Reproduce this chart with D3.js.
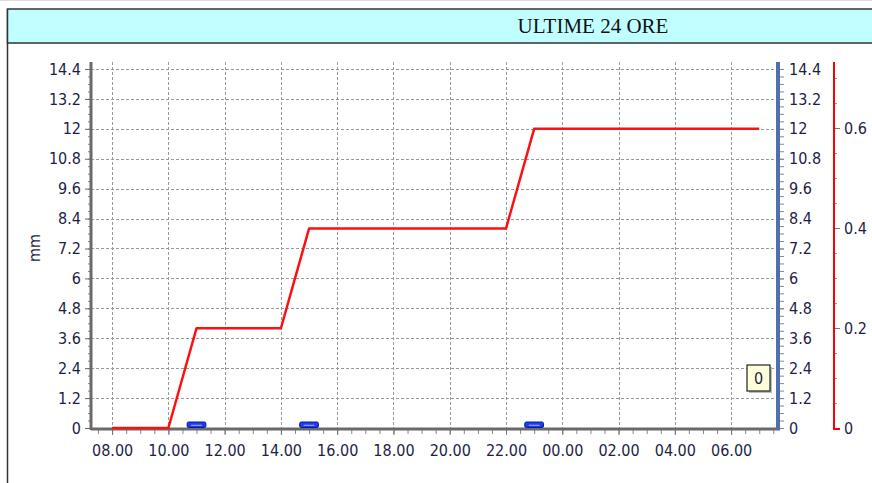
<!DOCTYPE html>
<html>
<head>
<meta charset="utf-8">
<script src="https://cdn.jsdelivr.net/npm/d3@7"></script>
<style>
  body { margin: 0; background: #fff; overflow: hidden; }
  svg { display: block; }
  .lbl { font-family: "DejaVu Sans Condensed", "DejaVu Sans", sans-serif; font-size: 16px; fill: #1e1e46; }
</style>
</head>
<body>
<div id="chart"></div>
<script>
// rain accumulation, last 24 hours
var times = ["08:00", "10:00", "11:00", "14:00", "15:00", "22:00", "23:00", "07:00"];
var dayOffset = [0, 0, 0, 0, 0, 0, 0, 1];
var values = [0, 0, 4, 4, 8, 8, 12, 12];

// small intensity bars (right red axis)
var barTimes = ["11:00", "15:00", "23:00"];
var barDay = [0, 0, 0];
var barValues = [0.011, 0.011, 0.011];

var leftTicks = [0, 1.2, 2.4, 3.6, 4.8, 6, 7.2, 8.4, 9.6, 10.8, 12, 13.2, 14.4];
var redTicks = [0, 0.2, 0.4, 0.6];
var title = "ULTIME 24 ORE";
var yLabel = "mm";
var lastValueLabel = "0";

var W = 872, H = 483;
var parseT = function(t, d) {
    var p = t.split(":");
    return new Date(2000, 0, 1 + d, +p[0], +p[1]);
};

var svg = d3.select("#chart").append("svg")
    .attr("width", W).attr("height", H);

// frame + title band
svg.append("line")
    .attr("x1", 0).attr("x2", W).attr("y1", 0.5).attr("y2", 0.5)
    .attr("stroke", "#ddd").attr("stroke-width", 1);
svg.append("line")
    .attr("x1", 7.5).attr("x2", 7.5).attr("y1", 9).attr("y2", H)
    .attr("stroke", "#333").attr("stroke-width", 1.5);
svg.append("rect")
    .attr("x", 7.5).attr("y", 9).attr("width", W + 20).attr("height", 34)
    .attr("fill", "#c0ffff").attr("stroke", "#333").attr("stroke-width", 1.5);
svg.append("text")
    .attr("x", 593).attr("y", 33)
    .attr("text-anchor", "middle")
    .attr("font-family", "'Liberation Serif', 'Times New Roman', serif")
    .attr("font-size", 21)
    .attr("fill", "#111")
    .text(title);

var x0 = 91, x1 = 778, yTop = 62, yBot = 428;

var x = d3.scaleTime()
    .domain([parseT("07:15", 0), parseT("07:40", 1)])
    .range([x0, x1]);
var y = d3.scaleLinear().domain([0, 14.68]).range([yBot, yTop]);
var yR = d3.scaleLinear().domain([0, 0.732]).range([yBot, yTop]);

var xMajor = d3.timeHour.every(2).range(parseT("08:00", 0), parseT("07:00", 1));
var xMinor = d3.timeMinute.every(30).range(parseT("07:30", 0), parseT("07:31", 1));

// grid
var grid = svg.append("g").attr("stroke", "#9a9a9a").attr("stroke-width", 1)
    .attr("stroke-dasharray", "3,2");
grid.selectAll(".h").data(leftTicks.slice(1)).enter().append("line")
    .attr("x1", x0).attr("x2", x1)
    .attr("y1", d => Math.round(y(d)) + 0.5).attr("y2", d => Math.round(y(d)) + 0.5);
grid.selectAll(".v").data(xMajor).enter().append("line")
    .attr("y1", yTop).attr("y2", yBot)
    .attr("x1", d => Math.round(x(d)) + 0.5).attr("x2", d => Math.round(x(d)) + 0.5);

// left axis
var leftAxis = svg.append("g").attr("transform", "translate(" + x0 + ",0)");
leftAxis.call(d3.axisLeft(y).tickValues(d3.range(0, 14.5, 0.3)).tickSize(3).tickFormat(""))
    .call(g => g.select(".domain").remove())
    .call(g => g.selectAll("line").attr("stroke", "#888"));
leftAxis.append("g")
    .call(d3.axisLeft(y).tickValues(leftTicks).tickSize(6).tickFormat(d3.format("~g")))
    .call(g => g.select(".domain").remove())
    .call(g => g.selectAll("line").attr("stroke", "#666"))
    .call(g => g.selectAll("text").attr("class", "lbl").attr("x", -10).attr("font-size", null).attr("font-family", null).attr("fill", null));

// bottom axis
var bottomAxis = svg.append("g").attr("transform", "translate(0," + (yBot + 1) + ")");
bottomAxis.call(d3.axisBottom(x).tickValues(xMinor).tickSize(5).tickFormat(""))
    .call(g => g.select(".domain").remove())
    .call(g => g.selectAll("line").attr("stroke", "#888"));
bottomAxis.append("g")
    .call(d3.axisBottom(x).tickValues(xMajor).tickSize(6).tickFormat(d3.timeFormat("%H.%M")))
    .call(g => g.select(".domain").remove())
    .call(g => g.selectAll("line").attr("stroke", "#777"))
    .call(g => g.selectAll("text").attr("class", "lbl").attr("y", 16).attr("font-size", null).attr("font-family", null).attr("fill", null));

// right blue axis
var rightAxis = svg.append("g").attr("transform", "translate(" + (x1 + 2) + ",0)");
rightAxis.call(d3.axisRight(y).tickValues(d3.range(0, 14.5, 0.3)).tickSize(4).tickFormat(""))
    .call(g => g.select(".domain").remove())
    .call(g => g.selectAll("line").attr("stroke", "#888"));
rightAxis.append("g")
    .call(d3.axisRight(y).tickValues(leftTicks).tickSize(4).tickFormat(d3.format("~g")))
    .call(g => g.select(".domain").remove())
    .call(g => g.selectAll("line").attr("stroke", "#888"))
    .call(g => g.selectAll("text").attr("class", "lbl").attr("x", 9).attr("font-size", null).attr("font-family", null).attr("fill", null));

// red right axis
var redX = 834;
var redAxis = svg.append("g").attr("transform", "translate(" + redX + ",0)");
redAxis.call(d3.axisRight(yR).tickValues(d3.range(0, 0.73, 0.05)).tickSize(3).tickFormat(""))
    .call(g => g.select(".domain").remove())
    .call(g => g.selectAll("line").attr("stroke", "#999"));
redAxis.append("g")
    .call(d3.axisRight(yR).tickValues(redTicks).tickSize(6).tickFormat(d3.format("~g")))
    .call(g => g.select(".domain").remove())
    .call(g => g.selectAll("line").attr("stroke", "#777"))
    .call(g => g.selectAll("text").attr("class", "lbl").attr("x", 10).attr("font-size", null).attr("font-family", null).attr("fill", null));
svg.append("path")
    .attr("d", "M" + redX + "," + yTop + "V" + (yBot + 1) + "H" + (redX + 6))
    .attr("fill", "none").attr("stroke", "#ff0000").attr("stroke-width", 2);

// axis lines
svg.append("line").attr("x1", x0).attr("x2", x0).attr("y1", yTop).attr("y2", yBot + 2)
    .attr("stroke", "#6a6a6a").attr("stroke-width", 3);
svg.append("line").attr("x1", x0).attr("x2", x1 + 2).attr("y1", yBot + 1).attr("y2", yBot + 1)
    .attr("stroke", "#6a6a6a").attr("stroke-width", 3);
svg.append("line").attr("x1", x1).attr("x2", x1).attr("y1", yTop).attr("y2", yBot + 2)
    .attr("stroke", "#4f6faf").attr("stroke-width", 4);

// y label
svg.append("text")
    .attr("class", "lbl")
    .attr("transform", "translate(40,248) rotate(-90)")
    .attr("text-anchor", "middle")
    .text(yLabel);

// bars
var bw = x(parseT("11:40", 0)) - x(parseT("11:00", 0));
svg.selectAll(".bar").data(barTimes).enter().append("rect")
    .attr("x", (d, i) => x(parseT(d, barDay[i])) - bw / 2)
    .attr("y", (d, i) => yR(barValues[i]) - 0.5)
    .attr("width", bw)
    .attr("height", (d, i) => yBot - yR(barValues[i]))
    .attr("rx", 1.5)
    .attr("fill", "#1c3cf0").attr("stroke", "#0a1a9a").attr("stroke-width", 1);
svg.selectAll(".barhl").data(barTimes).enter().append("line")
    .attr("x1", (d, i) => x(parseT(d, barDay[i])) - bw / 2 + 4)
    .attr("x2", (d, i) => x(parseT(d, barDay[i])) + bw / 2 - 4)
    .attr("y1", (d, i) => (yR(barValues[i]) + yBot) / 2)
    .attr("y2", (d, i) => (yR(barValues[i]) + yBot) / 2)
    .attr("stroke", "#9fb0ff").attr("stroke-width", 1);

// accumulation line
var line = d3.line()
    .x((d, i) => x(parseT(d, dayOffset[i])))
    .y((d, i) => y(values[i]));
svg.append("path")
    .datum(times)
    .attr("d", line)
    .attr("fill", "none")
    .attr("stroke", "#ff1010")
    .attr("stroke-width", 2.5)
    .attr("stroke-linejoin", "round");

// last value box
var bx = 747, by = 365;
svg.append("rect").attr("x", bx + 2).attr("y", by + 2).attr("width", 23).attr("height", 26)
    .attr("fill", "#bbb");
svg.append("rect").attr("x", bx).attr("y", by).attr("width", 23).attr("height", 26)
    .attr("fill", "#ffffd9").attr("stroke", "#222").attr("stroke-width", 1.2);
svg.append("text").attr("class", "lbl")
    .attr("x", bx + 11.5).attr("y", by + 19).attr("text-anchor", "middle")
    .text(lastValueLabel);
</script>
</body>
</html>
